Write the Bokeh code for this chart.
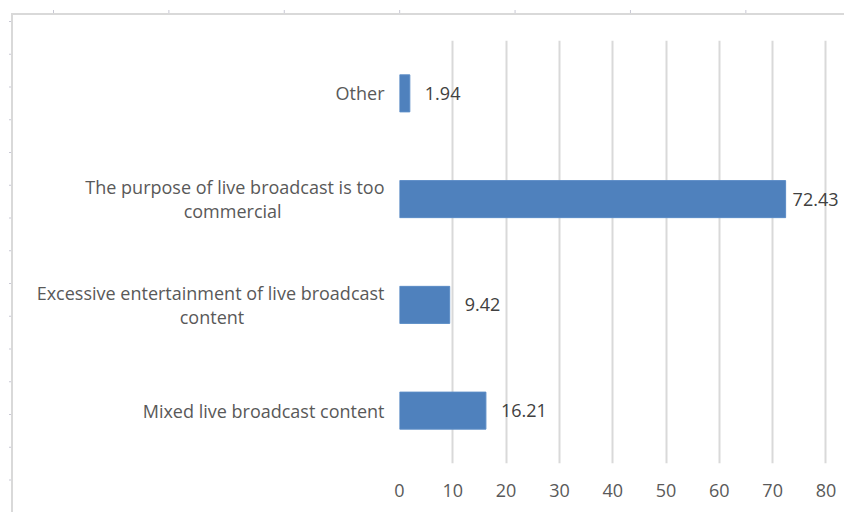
import json
from bokeh.plotting import figure
from bokeh.models import ColumnDataSource, FixedTicker, LabelSet, CustomJSTickFormatter
from bokeh.core.properties import value
from bokeh.embed import file_html
from bokeh.resources import INLINE

categories = [
    "Mixed live broadcast content",
    "Excessive entertainment of live broadcast\ncontent",
    "The purpose of live broadcast is too\ncommercial",
    "Other",
]
values = [16.21, 9.42, 72.43, 1.94]
x_ticks = [0, 10, 20, 30, 40, 50, 60, 70, 80]

labels = [f"{v:.2f}" for v in values]
offsets = [7 if v > 70 else 15 for v in values]
src = ColumnDataSource(dict(cat=categories, val=values, lab=labels, off=offsets))

FONT = "Open Sans"
FS = "18px"
TXT = "#595959"

# light frame of the original screenshot (top and left border with small ticks)
G = "#d9d9d9"
T = "#c8c8d4"
frame_css = {
    "background-image": ", ".join([
        f"linear-gradient({G}, {G})",
        f"linear-gradient({G}, {G})",
        f"linear-gradient(to right, {T} 0px, {T} 1px, transparent 1px)",
        f"linear-gradient(to bottom, {T} 0px, {T} 1px, transparent 1px)",
    ]),
    "background-position": "11px 13px, 11px 13px, 53px 10px, 9px 21px",
    "background-size": "2px 100%, 100% 2px, 115.4px 3px, 2px 32.75px",
    "background-repeat": "no-repeat, no-repeat, repeat-x, repeat-y",
}

p = figure(width=844, height=512, y_range=categories, x_range=(0, 83.1),
           output_backend="svg", toolbar_location=None,
           min_border_left=399, min_border_right=2, min_border_top=40, min_border_bottom=49,
           styles=frame_css)
p.outline_line_color = None
p.background_fill_alpha = 0
p.border_fill_alpha = 0

p.hbar(y="cat", right="val", left=0, height=0.35, source=src,
       fill_color="#4f81bd", line_color="#5b8cc6", line_width=1)

p.add_layout(LabelSet(x="val", y="cat", text="lab", x_offset="off", source=src,
                      text_font=value(FONT), text_font_size=FS, text_color="#404040",
                      text_baseline="middle", text_align="left"))

p.xaxis.ticker = FixedTicker(ticks=x_ticks)
p.xgrid.ticker = FixedTicker(ticks=x_ticks)
p.xgrid.grid_line_color = "#d9d9d9"
p.xgrid.grid_line_width = 2
p.ygrid.grid_line_color = None

for ax in (p.xaxis[0], p.yaxis[0]):
    ax.axis_line_color = None
    ax.major_tick_line_color = None
    ax.minor_tick_line_color = None
    ax.major_label_text_font = FONT
    ax.major_label_text_font_size = FS
    ax.major_label_text_color = TXT

p.xaxis.major_label_standoff = 14
p.yaxis.major_label_standoff = 9
p.yaxis.major_label_text_line_height = 1.0

# centre the second line of wrapped labels under the first (pad with no-break spaces)
pad = {categories[1]: 30, categories[2]: 22}
p.yaxis.formatter = CustomJSTickFormatter(code=(
    "const pad = " + json.dumps(pad) + ";\n"
    "const n = pad[tick] || 0;\n"
    "return tick + '\\u00a0'.repeat(n);"
))

open("out.html", "w").write(file_html(p, INLINE))
